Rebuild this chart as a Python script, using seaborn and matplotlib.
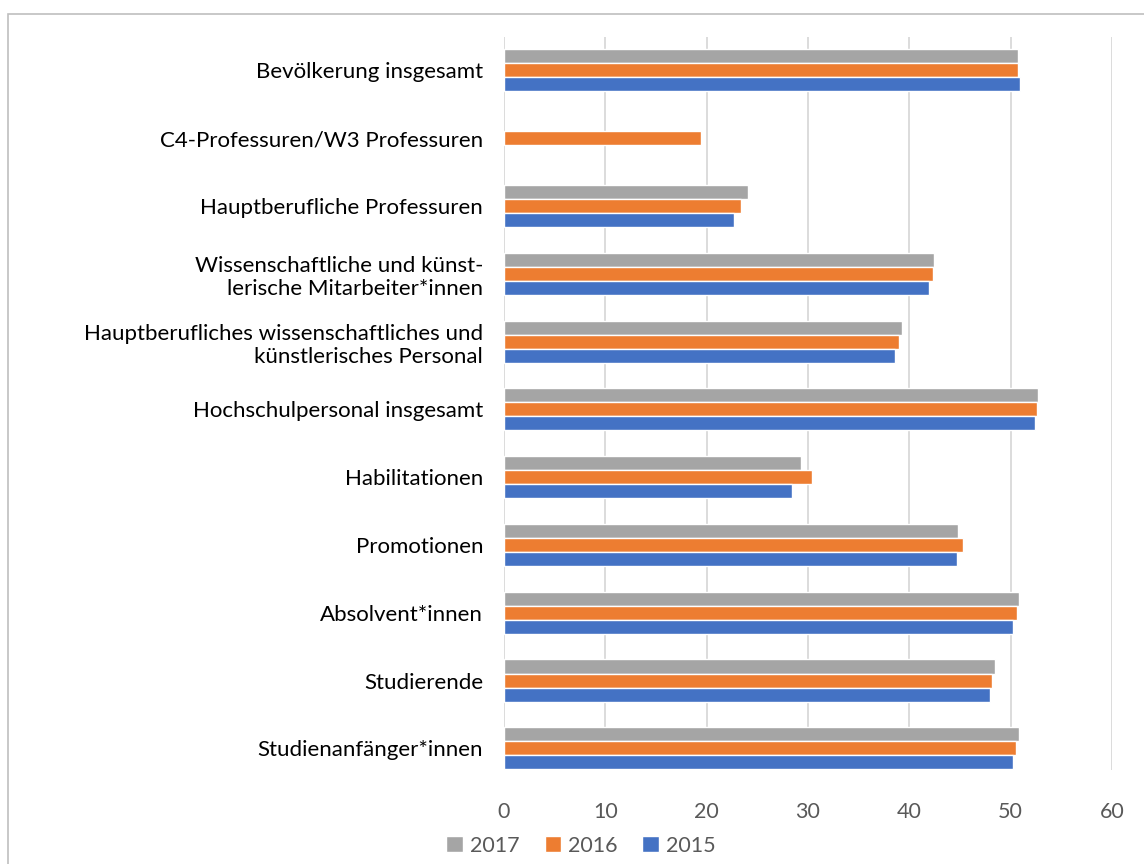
import numpy as np
import pandas as pd
import matplotlib.pyplot as plt
import seaborn as sns
from matplotlib.patches import Rectangle, Patch

categories = [
    'Bevölkerung insgesamt',
    'C4-Professuren/W3 Professuren',
    'Hauptberufliche Professuren',
    'Wissenschaftliche und künst-\nlerische Mitarbeiter*innen',
    'Hauptberufliches wissenschaftliches und\nkünstlerisches Personal',
    'Hochschulpersonal insgesamt',
    'Habilitationen',
    'Promotionen',
    'Absolvent*innen',
    'Studierende',
    'Studienanfänger*innen',
]
years = ['2017', '2016', '2015']
v2017 = [50.7, np.nan, 24.1, 42.4, 39.3, 52.7, 29.3, 44.8, 50.8, 48.5, 50.8]
v2016 = [50.7, 19.4, 23.4, 42.3, 39.0, 52.6, 30.4, 45.3, 50.6, 48.2, 50.5]
v2015 = [50.9, np.nan, 22.7, 41.9, 38.6, 52.4, 28.4, 44.7, 50.2, 48.0, 50.2]
colors = ['#A5A5A5', '#ED7D31', '#4472C4']

df = pd.DataFrame({
    'Kategorie': categories * 3,
    'Jahr': ['2017'] * 11 + ['2016'] * 11 + ['2015'] * 11,
    'Wert': v2017 + v2016 + v2015,
})

sns.set_theme(style="white")
plt.rcParams['font.family'] = ['Lato', 'DejaVu Sans']

fig = plt.figure(figsize=(11.44, 8.64), dpi=100)
ax = fig.add_axes([0.4406, 0.1088, 0.5314, 0.848])

sns.barplot(data=df, y='Kategorie', x='Wert', hue='Jahr', hue_order=years,
            order=categories, palette=colors, orient='h', width=0.62,
            saturation=1, ax=ax, legend=False, errorbar=None)

ax.set_xlim(0, 60)
ax.set_xticks(range(0, 61, 10))
ax.set_ylim(10.32, -0.487)
ax.set_xlabel('')
ax.set_ylabel('')
ax.grid(axis='x', color='#D9D9D9', linewidth=1.3)
ax.set_axisbelow(True)
for s in ax.spines.values():
    s.set_visible(False)
ax.tick_params(axis='x', length=0, pad=23, labelsize=15.5, labelcolor='#595959')
ax.tick_params(axis='y', length=0, pad=15, labelsize=16, labelcolor='#000000')
for lbl in ax.get_yticklabels():
    lbl.set_horizontalalignment('right')
    lbl.set_multialignment('right')

handles = [Patch(facecolor=c, label=y) for c, y in zip(colors, years)]
fig.legend(handles=handles, loc='center', bbox_to_anchor=(0.508, 0.021), ncol=3,
           frameon=False, fontsize=15.5, handlelength=0.75, handleheight=0.75,
           columnspacing=1.15, handletextpad=0.35, labelcolor='#595959')

fig.patches.append(Rectangle((8 / 1144, -0.05), 1.1, 1 - 14 / 864 + 0.05,
                             transform=fig.transFigure, fill=False,
                             edgecolor='#BFBFBF', linewidth=1.2))

fig.savefig('out.png', dpi=100)
